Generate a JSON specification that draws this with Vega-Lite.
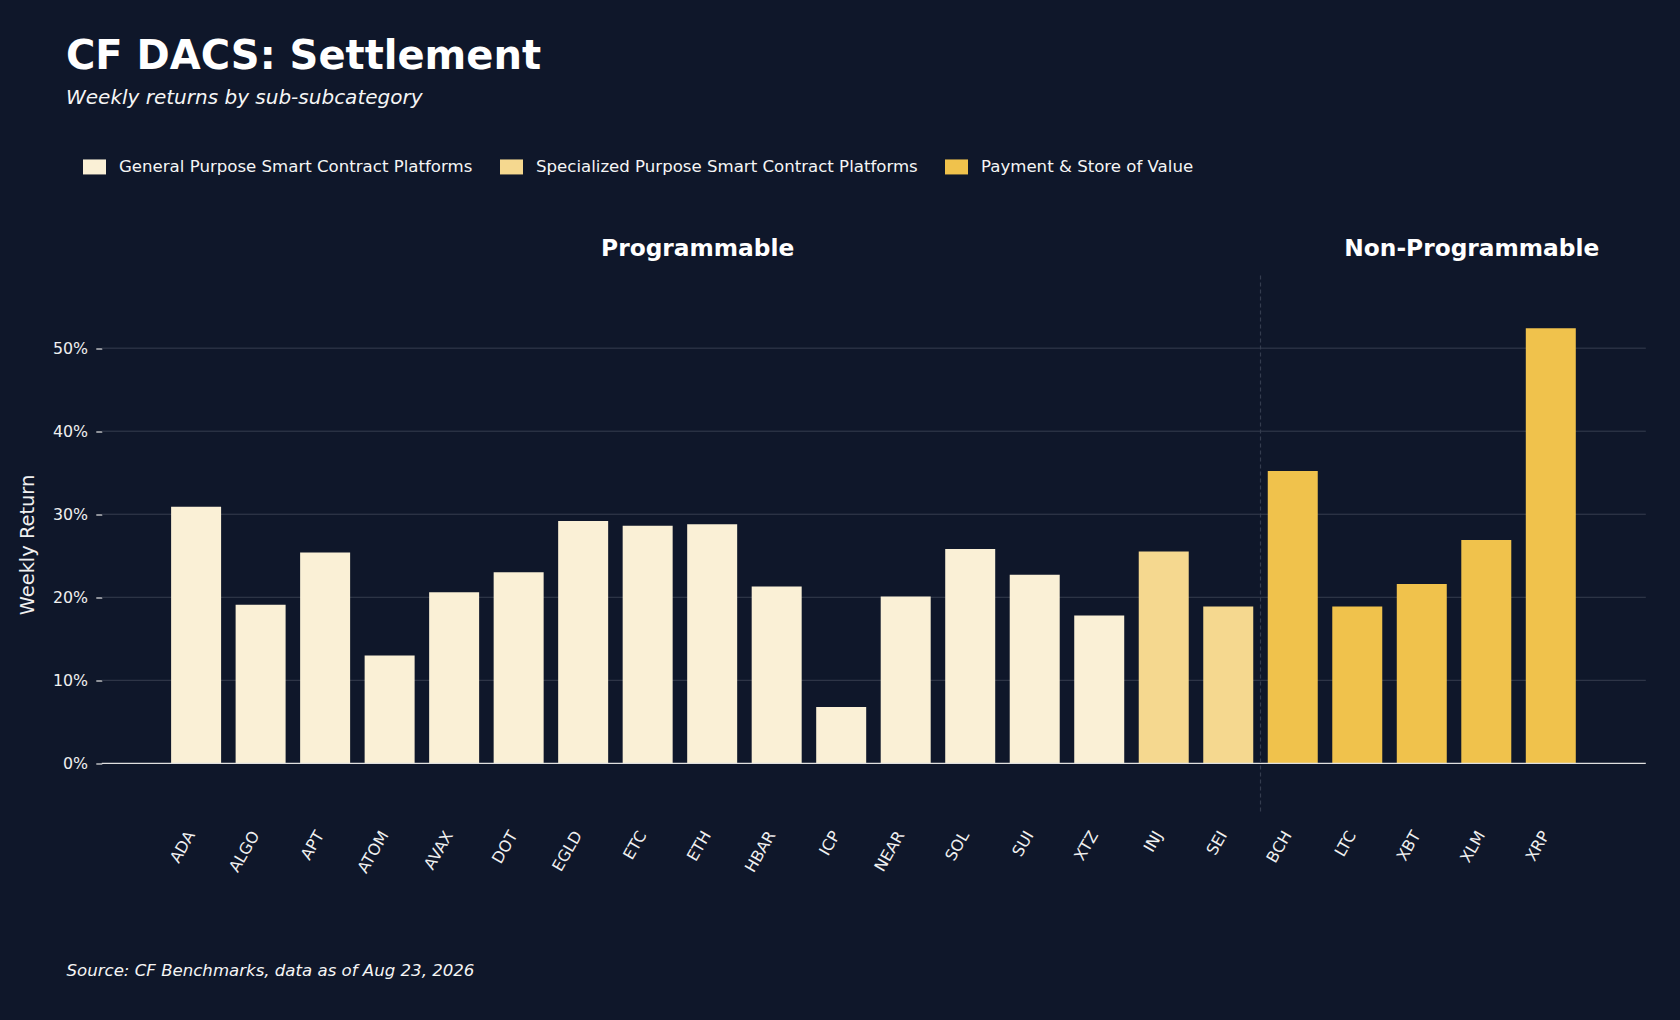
{
  "$schema": "https://vega.github.io/schema/vega-lite/v6.json",
  "description": "CF DACS Settlement: weekly returns by sub-subcategory.",
  "width": 1544,
  "height": 538.5,
  "autosize": {"type": "none"},
  "padding": {"left": 101.8, "top": 275.5, "right": 34.2, "bottom": 206},
  "background": "#0f172a",
  "title": {
    "text": "CF DACS: Settlement",
    "subtitle": "Weekly returns by sub-subcategory",
    "anchor": "start",
    "frame": "group",
    "dx": -35.8,
    "offset": 46.8,
    "fontSize": 40,
    "fontWeight": "bold",
    "color": "#ffffff",
    "subtitleFontSize": 20,
    "subtitleFontStyle": "italic",
    "subtitleColor": "#f5f5f5",
    "subtitlePadding": 11.5
  },
  "datasets": {
    "returns": [
      {"sym": "ADA", "group": "General Purpose Smart Contract Platforms", "ret": 0.309},
      {"sym": "ALGO", "group": "General Purpose Smart Contract Platforms", "ret": 0.191},
      {"sym": "APT", "group": "General Purpose Smart Contract Platforms", "ret": 0.254},
      {"sym": "ATOM", "group": "General Purpose Smart Contract Platforms", "ret": 0.130},
      {"sym": "AVAX", "group": "General Purpose Smart Contract Platforms", "ret": 0.206},
      {"sym": "DOT", "group": "General Purpose Smart Contract Platforms", "ret": 0.230},
      {"sym": "EGLD", "group": "General Purpose Smart Contract Platforms", "ret": 0.292},
      {"sym": "ETC", "group": "General Purpose Smart Contract Platforms", "ret": 0.286},
      {"sym": "ETH", "group": "General Purpose Smart Contract Platforms", "ret": 0.288},
      {"sym": "HBAR", "group": "General Purpose Smart Contract Platforms", "ret": 0.213},
      {"sym": "ICP", "group": "General Purpose Smart Contract Platforms", "ret": 0.068},
      {"sym": "NEAR", "group": "General Purpose Smart Contract Platforms", "ret": 0.201},
      {"sym": "SOL", "group": "General Purpose Smart Contract Platforms", "ret": 0.258},
      {"sym": "SUI", "group": "General Purpose Smart Contract Platforms", "ret": 0.227},
      {"sym": "XTZ", "group": "General Purpose Smart Contract Platforms", "ret": 0.178},
      {"sym": "INJ", "group": "Specialized Purpose Smart Contract Platforms", "ret": 0.255},
      {"sym": "SEI", "group": "Specialized Purpose Smart Contract Platforms", "ret": 0.189},
      {"sym": "BCH", "group": "Payment & Store of Value", "ret": 0.352},
      {"sym": "LTC", "group": "Payment & Store of Value", "ret": 0.189},
      {"sym": "XBT", "group": "Payment & Store of Value", "ret": 0.216},
      {"sym": "XLM", "group": "Payment & Store of Value", "ret": 0.269},
      {"sym": "XRP", "group": "Payment & Store of Value", "ret": 0.524}
    ],
    "categories": [
      {"category": "Programmable", "near": "ETH"},
      {"category": "Non-Programmable", "near": "XLM"}
    ],
    "divider": [{"first": "BCH"}],
    "gridlines": [{"level": 0.1}, {"level": 0.2}, {"level": 0.3}, {"level": 0.4}, {"level": 0.5}],
    "zero": [{"level": 0}]
  },
  "layer": [
    {
      "data": {"name": "gridlines"},
      "mark": {"type": "rule", "color": "#363e4f", "strokeWidth": 1},
      "encoding": {
        "y": {"field": "level", "type": "quantitative"}
      }
    },
    {
      "data": {"name": "returns"},
      "mark": {"type": "bar"},
      "encoding": {
        "x": {
          "field": "sym",
          "type": "nominal",
          "sort": null,
          "scale": {
            "domain": ["ADA", "ALGO", "APT", "ATOM", "AVAX", "DOT", "EGLD", "ETC", "ETH", "HBAR", "ICP", "NEAR", "SOL", "SUI", "XTZ", "INJ", "SEI", "BCH", "LTC", "XBT", "XLM", "XRP"],
            "range": [4.8, 1538.5],
            "paddingInner": 0.225,
            "paddingOuter": 1
          },
          "axis": {
            "title": "Source: CF Benchmarks, data as of Aug 23, 2026",
            "titleX": -35.8,
            "titleY": 161,
            "titleAlign": "left",
            "titleBaseline": "alphabetic",
            "titleFontStyle": "italic",
            "titleFontWeight": "normal",
            "titleFontSize": 16.6,
            "titleColor": "#f5f5f5",
            "domain": false,
            "ticks": false,
            "tickSize": 0,
            "grid": false,
            "labelAngle": -60,
            "labelAlign": "right",
            "labelBaseline": "middle",
            "labelPadding": 18,
            "labelOffset": -5,
            "labelFontSize": 15.8,
            "labelColor": "#f0f0f0"
          }
        },
        "y": {
          "field": "ret",
          "type": "quantitative",
          "scale": {"domain": [-0.061, 0.5875], "nice": false, "zero": false},
          "axis": {
            "title": "Weekly Return",
            "titleX": -68.7,
            "titleY": 269,
            "titleAngle": -90,
            "titleAlign": "center",
            "titleBaseline": "alphabetic",
            "titleFontSize": 19.4,
            "titleFontWeight": "normal",
            "titleColor": "#f0f0f0",
            "values": [0, 0.1, 0.2, 0.3, 0.4, 0.5],
            "format": ".0%",
            "domain": false,
            "ticks": true,
            "tickSize": 6,
            "tickWidth": 1.2,
            "tickColor": "#e6e6e6",
            "labelPadding": 8.2,
            "labelFontSize": 15.8,
            "labelColor": "#f0f0f0",
            "grid": false
          }
        },
        "color": {
          "field": "group",
          "type": "nominal",
          "scale": {
            "domain": ["General Purpose Smart Contract Platforms", "Specialized Purpose Smart Contract Platforms", "Payment & Store of Value"],
            "range": ["#faf0d6", "#f5d88f", "#f0c24c"]
          },
          "legend": {
            "title": null,
            "orient": "none",
            "direction": "horizontal",
            "legendX": -18.8,
            "legendY": -120.5,
            "padding": 0,
            "symbolType": "M-1,-0.652H1V0.652H-1Z",
            "symbolSize": 529,
            "symbolStrokeWidth": 0,
            "symbolOpacity": 1,
            "labelFontSize": 16.6,
            "labelColor": "#f5f5f5",
            "labelOffset": 13,
            "labelLimit": 600,
            "columnPadding": 27
          }
        }
      }
    },
    {
      "data": {"name": "zero"},
      "mark": {"type": "rule", "color": "#e0e0e0", "strokeWidth": 1.4},
      "encoding": {
        "y": {"field": "level", "type": "quantitative"}
      }
    },
    {
      "data": {"name": "divider"},
      "mark": {"type": "rule", "color": "#343c4e", "strokeWidth": 1.2, "strokeDash": [4, 3]},
      "encoding": {
        "x": {"field": "first", "type": "nominal", "bandPosition": -0.145}
      }
    },
    {
      "data": {"name": "categories"},
      "mark": {"type": "text", "align": "center", "baseline": "alphabetic", "fontSize": 23.3, "fontWeight": "bold", "color": "#ffffff"},
      "encoding": {
        "x": {"field": "near", "type": "nominal", "bandPosition": 0.21},
        "y": {"datum": 0.611},
        "text": {"field": "category"}
      }
    }
  ],
  "config": {
    "font": "DejaVu Sans",
    "view": {"stroke": null},
    "axis": {"grid": false}
  }
}
